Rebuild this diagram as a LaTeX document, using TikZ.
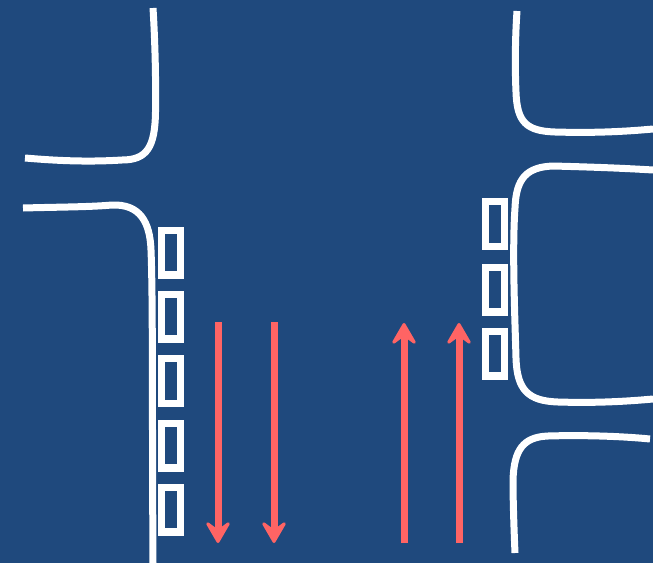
\documentclass[tikz,border=0pt]{standalone}
\usetikzlibrary{arrows.meta}
\definecolor{roadblue}{HTML}{1F497D}
\definecolor{flowred}{HTML}{FF6464}
\tikzset{
  curb/.style={draw=white,line width=7pt,line join=round},
  busbox/.style={draw=white,line width=7.3pt,fill=none,minimum width=18.7pt,minimum height=44.7pt,inner sep=0pt,outer sep=0pt},
  flow/.style={draw=flowred,line width=7pt,-{Stealth[length=26pt,width=30pt,inset=11pt,round,line width=3pt]}},
}
\begin{document}
\begin{tikzpicture}[x=1pt,y=-1pt]
\useasboundingbox (0,0) rectangle (662,563);
\fill[white] (0,0) rectangle (662,563);
\fill[roadblue] (0,0) rectangle (653,563);
% curbs
\draw[curb] (153,8) .. controls (155,40) and (156,80) .. (155.5,112) .. controls (155,147) and (147,160) .. (122,160) .. controls (90,162) and (60,161) .. (25,158);
\draw[curb] (23,208) .. controls (60,207) and (90,207) .. (112,205) .. controls (140,204) and (150,222) .. (151,250) .. controls (153,300) and (152,400) .. (153,563);
\draw[curb] (517,11) .. controls (515,40) and (515,70) .. (516,92) .. controls (517,122) and (526,131) .. (555,132) .. controls (590,133) and (620,132) .. (653,129);
\draw[curb] (653,170) .. controls (620,168) and (590,167) .. (553,166) .. controls (527,167) and (516,178) .. (515,208) .. controls (512,250) and (515,320) .. (516,358) .. controls (517,390) and (528,401) .. (558,402) .. controls (590,403) and (620,402) .. (653,399);
\draw[curb] (515,553) .. controls (514,530) and (513,500) .. (513,480) .. controls (514,450) and (523,437) .. (548,436) .. controls (580,435) and (620,436) .. (650,439);
% boxes
\node[busbox] (a1) at (171,252.5) {};
\node[busbox] (a2) at (171,316.5) {};
\node[busbox] (a3) at (171,381) {};
\node[busbox] (a4) at (171,445.5) {};
\node[busbox] (a5) at (171,509.5) {};
\node[busbox] (b1) at (495,224) {};
\node[busbox] (b2) at (495,289.5) {};
\node[busbox] (b3) at (495,353.5) {};
% arrows
\coordinate (d1s) at (218,322); \coordinate (d1e) at (218,543);
\coordinate (d2s) at (274,322); \coordinate (d2e) at (274,543);
\coordinate (u1s) at (404,543); \coordinate (u1e) at (404,323);
\coordinate (u2s) at (459,543); \coordinate (u2e) at (459,323);
\draw[flow] (d1s) -- (d1e);
\draw[flow] (d2s) -- (d2e);
\draw[flow] (u1s) -- (u1e);
\draw[flow] (u2s) -- (u2e);
\end{tikzpicture}
\end{document}
